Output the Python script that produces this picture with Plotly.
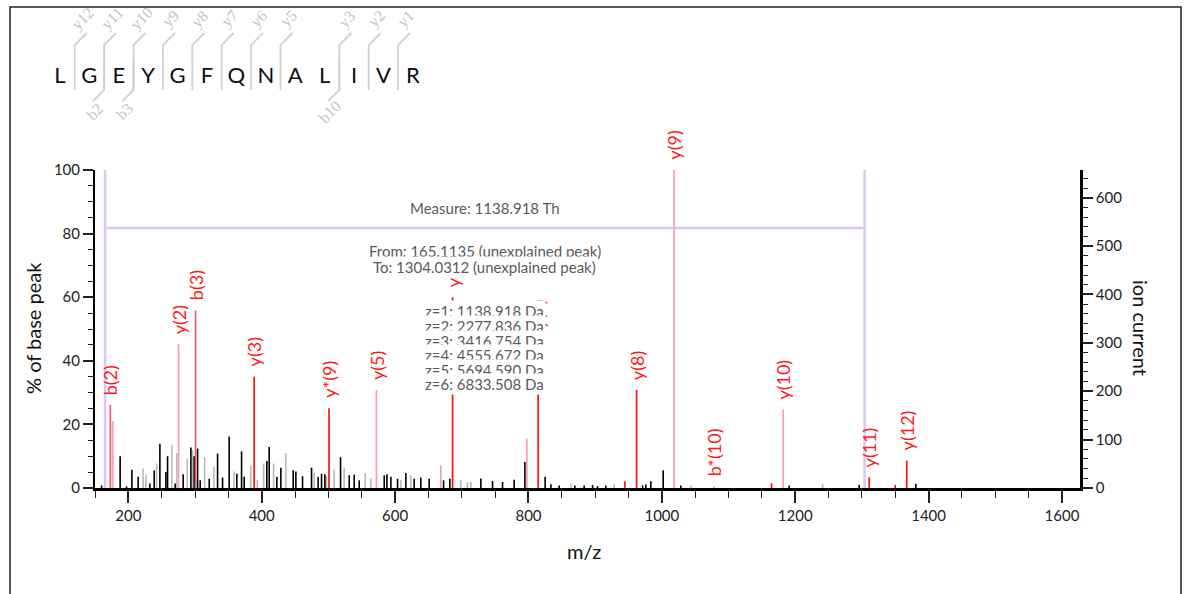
import plotly.graph_objects as go

# ---------------------------------------------------------------- data
sequence = list("LGEYGFQNALIVR")
y_ions = [12, 11, 10, 9, 8, 7, 6, 5, 3, 2, 1]
b_ions = [2, 3, 10]

# matched fragment peaks with labels (m/z, % of base peak)
ion_labels = ["b(2)", "y(2)", "b(3)", "y(3)", "y*(9)", "y(5)", "y(6)",
              "y(7)", "y(8)", "y(9)", "b*(10)", "y(10)", "y(11)", "y(12)"]
ion_mz = [173.0, 275.3, 300.8, 388.7, 500.9, 572.0, 686.2,
          814.5, 962.1, 1018.4, 1078.4, 1181.9, 1310.9, 1367.2]
ion_pct = [26.1, 45.2, 55.8, 35.0, 25.1, 30.8, 60.0,
           46.8, 30.8, 100.0, 0.6, 24.7, 3.4, 8.6]
ion_tone = ["rose", "pink", "rose", "red", "red", "pink", "red",
            "red", "red", "pink", "pink", "pink", "red", "red"]

# matched peaks without labels
extra_mz = [176.6, 668.6, 797.6, 944.5, 1164.5, 1349.9]
extra_pct = [21.1, 7.1, 15.5, 2.1, 1.5, 1.0]
extra_tone = ["pink", "pink", "pink", "red", "red", "red"]

# unmatched peaks
black_mz = [159.9, 187.7, 197.3, 205.3, 214.7, 232.3, 238.8, 247.3, 256.3, 258.8,
            270.2, 282.2, 293.8, 298.7, 303.8, 307.7, 321.3, 333.8, 341.3, 351.2,
            362.7, 369.8, 373.7, 407.7, 411.2, 422.7, 428.7, 447.2, 451.2, 461.2,
            474.7, 484.6, 489.7, 494.7, 518.2, 531.2, 538.7, 546.2, 583.7, 587.7,
            593.7, 603.7, 616.1, 628.6, 638.6, 651.1, 672.7, 682.1, 728.6, 746.1,
            761.1, 778.5, 794.6, 825.0, 833.6, 846.0, 869.5, 883.5, 896.1, 903.6,
            916.0, 971.1, 976.0, 983.5, 1002.0, 1028.5, 1190.9, 1295.9, 1380.9]
black_pct = [0.8, 10.0, 0.5, 5.7, 3.5, 1.4, 5.5, 13.9, 5.0, 10.0,
             1.4, 4.3, 12.7, 10.0, 12.4, 2.4, 2.9, 10.8, 3.3, 16.2,
             4.5, 11.5, 3.5, 8.5, 12.9, 3.5, 6.4, 5.6, 5.2, 3.7,
             6.4, 3.5, 4.5, 4.3, 9.7, 4.0, 4.2, 2.4, 4.0, 4.3,
             3.5, 2.9, 4.7, 2.9, 3.3, 2.9, 2.4, 2.9, 3.0, 2.2,
             1.9, 2.6, 8.2, 3.5, 1.2, 0.8, 0.8, 0.8, 0.9, 0.6,
             0.8, 0.8, 1.1, 2.1, 5.6, 0.8, 0.8, 1.0, 1.3]

gray_mz = [222.3, 226.3, 242.3, 265.3, 272.7, 288.3, 296.3, 314.4, 328.4, 358.4,
           383.4, 393.4, 402.8, 417.8, 436.2, 478.6, 497.2, 508.6, 523.6, 555.1,
           563.7, 608.7, 623.6, 698.6, 708.6, 713.6, 863.5, 928.5, 1043.5, 1241.0]
gray_pct = [6.1, 4.2, 7.7, 13.6, 11.0, 9.2, 11.8, 9.7, 6.6, 5.2,
            7.0, 2.6, 7.7, 7.7, 11.0, 4.9, 3.7, 5.8, 6.4, 4.7,
            3.0, 2.5, 4.0, 2.4, 1.9, 1.9, 1.3, 1.2, 0.8, 1.3]

# distance measurement between two peaks
measure_from = 165.1135
measure_to = 1304.0312
measure_level = 81.8
charges = [1, 2, 3, 4, 5, 6]

base_peak_current = 657.3

# ---------------------------------------------------------------- layout helpers
W, H = 1185, 594
ML, MR, MT, MB = 5, 5, 5, 5
PW, PH = W - ML - MR, H - MT - MB


def px_x(px):
    return (px - ML) / PW


def px_y(py):
    return (H - MB - py) / PH


TONES = {"red": "#ff1212", "rose": "#f25c6c", "pink": "#f7a3ad"}
LABEL_RED = "#ff1a1a"
FONT = "Lato"


def stems(mz, pct):
    xs, ys = [], []
    for m, p in zip(mz, pct):
        xs += [m, m, None]
        ys += [0, p, None]
    return xs, ys


fig = go.Figure()

# measurement bracket
fig.add_trace(go.Scatter(
    x=[measure_from, measure_from, None, measure_to, measure_to, None, measure_from, measure_to],
    y=[0, 100, None, 0, 100, None, measure_level, measure_level],
    mode="lines", line=dict(color="#dcc6f8", width=2.5), hoverinfo="skip"))

# unmatched peaks
gx, gy = stems(gray_mz, gray_pct)
fig.add_trace(go.Scatter(x=gx, y=gy, mode="lines",
                         line=dict(color="#b9b9b9", width=1.6), hoverinfo="skip"))
bx, by = stems(black_mz, black_pct)
fig.add_trace(go.Scatter(x=bx, y=by, mode="lines",
                         line=dict(color="#000000", width=1.6), hoverinfo="skip"))

# matched peaks, grouped by tone
for tone, col in TONES.items():
    mz = [m for m, t in zip(ion_mz + extra_mz, ion_tone + extra_tone) if t == tone]
    pc = [p for p, t in zip(ion_pct + extra_pct, ion_tone + extra_tone) if t == tone]
    sx, sy = stems(mz, pc)
    fig.add_trace(go.Scatter(x=sx, y=sy, mode="lines",
                             line=dict(color=col, width=1.7), hoverinfo="skip"))

# right-hand axis carrier
fig.add_trace(go.Scatter(x=[None], y=[None], yaxis="y2", hoverinfo="skip"))

# ---------------------------------------------------------------- sequence header
seq_x = list(range(len(sequence)))
fig.add_trace(go.Scatter(x=seq_x, y=[0] * len(sequence), mode="text", text=sequence,
                         textfont=dict(family=FONT, size=22, color="#0d0d18"),
                         xaxis="x2", yaxis="y3", hoverinfo="skip", cliponaxis=False))

U = 29.4  # pixels per residue
mark_x, mark_y = [], []
for k in y_ions:
    xi = len(sequence) - k - 0.5
    mark_x += [xi, xi, xi + 12 / U, None]
    mark_y += [-13 / U, 32 / U, 44 / U, None]
for k in b_ions:
    xi = k - 0.5
    mark_x += [xi, xi, xi - 11 / U, None]
    mark_y += [17 / U, -13 / U, -24 / U, None]
fig.add_trace(go.Scatter(x=mark_x, y=mark_y, mode="lines",
                         line=dict(color="#d0d0d0", width=1.8),
                         xaxis="x2", yaxis="y3", hoverinfo="skip", cliponaxis=False))

annotations = []
frag_font = dict(family="Liberation Serif", size=16, color="#c4c4c4")
for k in y_ions:
    xi = len(sequence) - k - 0.5
    annotations.append(dict(x=xi + 8 / U, y=58 / U, xref="x2", yref="y3",
                            xanchor="center", yanchor="middle",
                            text=f"y{k}", textangle=-45, showarrow=False, font=frag_font))
for k in b_ions:
    xi = k - 0.5
    annotations.append(dict(x=xi - 9 / U, y=-35 / U, xref="x2", yref="y3",
                            xanchor="center", yanchor="middle",
                            text=f"b{k}", textangle=-45, showarrow=False, font=frag_font))

# ---------------------------------------------------------------- peak labels
for lab, m, p in zip(ion_labels, ion_mz, ion_pct):
    annotations.append(dict(x=m, y=p, xref="x", yref="y", text=lab, textangle=-90,
                            showarrow=False, xanchor="center", yanchor="bottom", yshift=8,
                            font=dict(family=FONT, size=18, color=LABEL_RED)))

# ---------------------------------------------------------------- measurement text
span = round(measure_to - measure_from, 3)
mid = (measure_from + measure_to) / 2
txt_font = dict(family=FONT, size=15, color="#5a5a5a")
annotations.append(dict(x=mid, y=measure_level, xref="x", yref="y", yshift=20,
                        xanchor="center", yanchor="middle",
                        text=f"Measure: {span:.3f} Th", showarrow=False, font=txt_font))
info_lines = [f"From: {measure_from:.4f} (unexplained peak)",
              f"To: {measure_to:.4f} (unexplained peak)"]
for i, t in enumerate(info_lines):
    annotations.append(dict(x=mid, y=measure_level, xref="x", yref="y", yshift=-23 - 16 * i,
                            xanchor="center", yanchor="middle",
                            text=t, showarrow=False, font=txt_font,
                            bgcolor="white", borderpad=1))
for i, z in enumerate(charges):
    annotations.append(dict(x=mid, y=measure_level, xref="x", yref="y",
                            yshift=-83.5 - 14.6 * i, xanchor="center", yanchor="middle",
                            text=f"z={z}: {span * z:.3f} Da", showarrow=False, font=txt_font,
                            bgcolor="white", borderpad=1))

# ---------------------------------------------------------------- axis titles
title_font = dict(family=FONT, size=20, color="#111111")
annotations += [
    dict(x=px_x(33), y=px_y(328), xref="paper", yref="paper", text="% of base peak",
         xanchor="center", yanchor="middle",
         textangle=-90, showarrow=False, font=title_font),
    dict(x=px_x(1141), y=px_y(328), xref="paper", yref="paper", text="ion current",
         xanchor="center", yanchor="middle",
         textangle=90, showarrow=False, font=title_font),
    dict(x=px_x(584), y=px_y(551), xref="paper", yref="paper", text="m/z",
         xanchor="center", yanchor="middle",
         showarrow=False, font=title_font),
]

tick_font = dict(family=FONT, size=15, color="#222222")
x_dom = [px_x(95), px_x(1080)]
y_dom = [px_y(488), px_y(170)]

fig.update_layout(
    template="none",
    width=W, height=H,
    margin=dict(l=ML, r=MR, t=MT, b=MB, pad=0, autoexpand=False),
    paper_bgcolor="white", plot_bgcolor="white",
    showlegend=False,
    annotations=annotations,
    xaxis=dict(domain=x_dom, range=[150, 1627], anchor="y", automargin=False,
               showgrid=False, zeroline=False, showline=True, linecolor="black", linewidth=2.5,
               ticks="outside", ticklen=12, tickwidth=1.5, tickcolor="#222",
               tick0=0, dtick=200, tickfont=tick_font,
               minor=dict(dtick=50, tick0=0, ticks="outside", ticklen=7, tickcolor="#222",
                          tickwidth=1.3, showgrid=False)),
    yaxis=dict(domain=y_dom, range=[0, 100], anchor="x", automargin=False,
               showgrid=False, zeroline=False, showline=True, linecolor="black", linewidth=2,
               ticks="outside", ticklen=10, tickwidth=1.5, tickcolor="#222",
               dtick=20, tickfont=tick_font,
               minor=dict(dtick=5, ticks="outside", ticklen=5, tickcolor="#222",
                          tickwidth=1.3, showgrid=False)),
    yaxis2=dict(overlaying="y", side="right", anchor="x", range=[0, base_peak_current],
                automargin=False,
                showgrid=False, zeroline=False, showline=True, linecolor="black", linewidth=2.5,
                ticks="outside", ticklen=10, tickwidth=1.5, tickcolor="#222",
                dtick=100, tickfont=tick_font,
                minor=dict(dtick=20, ticks="outside", ticklen=5, tickcolor="#222",
                           tickwidth=1.3, showgrid=False)),
    xaxis2=dict(domain=[px_x(40), px_x(450)], anchor="y3", automargin=False,
                range=[-20 / U, -20 / U + 410 / U], visible=False),
    yaxis3=dict(domain=[px_y(150), px_y(10)], anchor="x2", automargin=False,
                range=[(77 - 150) / U, (77 - 10) / U], visible=False),
    shapes=[dict(type="path", xref="paper", yref="paper",
                 path=f"M {px_x(10)},{px_y(600)} L {px_x(10)},{px_y(7)} "
                      f"L {px_x(1181)},{px_y(7)} L {px_x(1181)},{px_y(600)}",
                 line=dict(color="#222", width=1.5))],
)

fig.write_html("out.html")
